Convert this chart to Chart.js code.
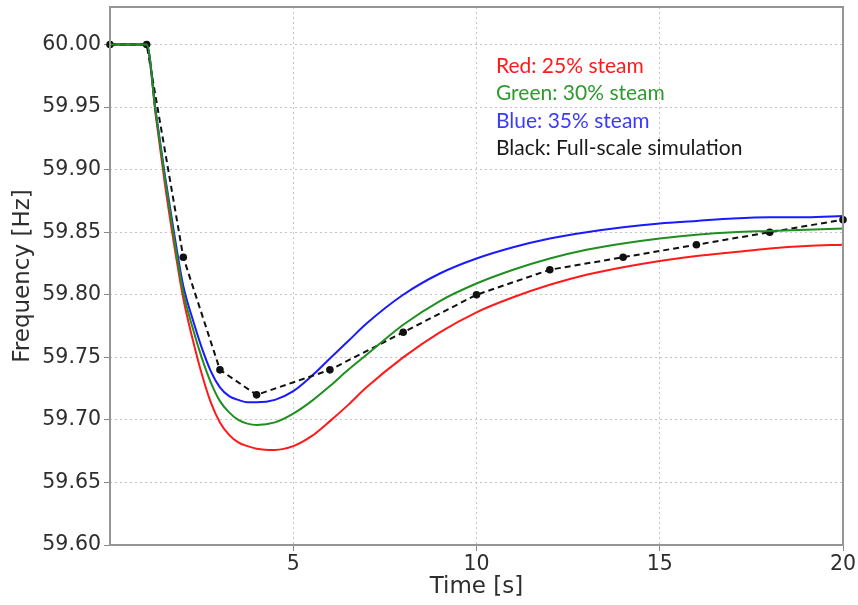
<!DOCTYPE html>
<html>
<head>
<meta charset="utf-8">
<script src="https://cdn.jsdelivr.net/npm/chart.js@4.4.1/dist/chart.umd.min.js"></script>
<style>
  html, body { margin: 0; padding: 0; background: #ffffff; }
  #wrap { width: 858px; height: 605px; }
</style>
</head>
<body>
<div id="wrap"><canvas id="c" width="858" height="605"></canvas></div>
<script>
// Reduced-model time base [s]
const tModel = [0, 1, 1.25, 1.5, 1.75, 2, 2.25, 2.5, 2.75, 3, 3.25, 3.5, 3.75, 4, 4.5, 5, 5.5, 6, 6.5, 7, 8, 9, 10, 11, 12, 13, 14, 15, 16, 17, 18, 19, 20];
// Frequency [Hz] for each steam share
const red25 = [60.000, 60.000, 59.943, 59.888, 59.840, 59.797, 59.765, 59.737, 59.714, 59.698, 59.688, 59.682, 59.679, 59.677, 59.676, 59.679, 59.687, 59.699, 59.712, 59.726, 59.750, 59.770, 59.786, 59.798, 59.808, 59.816, 59.822, 59.827, 59.831, 59.834, 59.837, 59.839, 59.840];
const green30 = [60.000, 60.000, 59.945, 59.893, 59.845, 59.802, 59.774, 59.750, 59.730, 59.715, 59.706, 59.700, 59.697, 59.696, 59.698, 59.705, 59.715, 59.727, 59.740, 59.752, 59.776, 59.795, 59.809, 59.820, 59.829, 59.836, 59.841, 59.845, 59.848, 59.850, 59.851, 59.852, 59.853];
const blue35 = [60.000, 60.000, 59.946, 59.895, 59.849, 59.807, 59.781, 59.758, 59.739, 59.726, 59.719, 59.716, 59.714, 59.714, 59.716, 59.723, 59.735, 59.749, 59.763, 59.777, 59.800, 59.817, 59.829, 59.838, 59.845, 59.850, 59.854, 59.857, 59.859, 59.861, 59.862, 59.862, 59.863];
// Full-scale simulation samples
const tFull = [0, 1, 2, 3, 4, 6, 8, 10, 12, 14, 16, 18, 20];
const fullScale = [60.00, 60.00, 59.83, 59.74, 59.72, 59.74, 59.77, 59.80, 59.82, 59.83, 59.84, 59.85, 59.86];
// Axis ticks
const xTicks = [5, 10, 15, 20];
const yTicks = [59.60, 59.65, 59.70, 59.75, 59.80, 59.85, 59.90, 59.95, 60.00];
// Legend notes
const notes = ['Red: 25% steam', 'Green: 30% steam', 'Blue: 35% steam', 'Black: Full-scale simulation'];
const noteColors = ['#ff1a1a', '#2e9a2e', '#3b3bff', '#1a1a1a'];

const pts = (xs, ys) => xs.map((x, i) => ({ x: x, y: ys[i] }));

const framePlugin = {
  id: 'frame',
  afterDatasetsDraw(chart) {
    const { ctx, chartArea: a } = chart;
    ctx.save();
    ctx.strokeStyle = '#959595';
    ctx.lineWidth = 2;
    ctx.strokeRect(a.left, a.top, a.right - a.left, a.bottom - a.top);
    ctx.restore();
  },
  afterDraw(chart) {
    const { ctx, scales } = chart;
    ctx.save();
    ctx.font = '21px Lato';
    ctx.textBaseline = 'middle';
    ctx.textAlign = 'left';
    const x0 = scales.x.getPixelForValue(10.53);
    const y0 = scales.y.getPixelForValue(59.9825);
    notes.forEach((s, i) => {
      ctx.fillStyle = noteColors[i];
      ctx.fillText(s, x0, y0 + i * 27.3);
    });
    ctx.restore();
  }
};

const gridStyle = {
  color: '#c4c4c4',
  lineWidth: 1,
  drawTicks: true,
  tickLength: 6,
  tickColor: '#8a8a8a',
  tickBorderDash: [],
  tickWidth: 1
};
const gridBorder = { display: false, dash: [2, 3] };

new Chart(document.getElementById('c'), {
  type: 'line',
  data: {
    datasets: [
      { label: 'Green', data: pts(tModel, green30), borderColor: '#1f8f1f', borderWidth: 2, pointRadius: 0, cubicInterpolationMode: 'monotone' },
      { label: 'Black', data: pts(tFull, fullScale), borderColor: '#111111', backgroundColor: '#111111', borderWidth: 2, borderDash: [6, 4], pointRadius: 3.8, pointBorderWidth: 0, tension: 0, clip: 6 },
      { label: 'Blue', data: pts(tModel, blue35), borderColor: '#1a1aff', borderWidth: 2, pointRadius: 0, cubicInterpolationMode: 'monotone' },
      { label: 'Red', data: pts(tModel, red25), borderColor: '#ff1a1a', borderWidth: 2, pointRadius: 0, cubicInterpolationMode: 'monotone' }
    ]
  },
  options: {
    responsive: false,
    animation: false,
    events: [],
    layout: { padding: { top: 7, right: 15, left: 0, bottom: 0 } },
    plugins: { legend: { display: false }, tooltip: { enabled: false } },
    scales: {
      x: {
        type: 'linear', min: 0, max: 20,
        afterBuildTicks: s => { s.ticks = xTicks.map(v => ({ value: v })); },
        afterFit: s => { s.height = 60; s.paddingLeft = 0; s.paddingRight = 0; },
        grid: gridStyle,
        border: gridBorder,
        ticks: { color: '#2e2e2e', font: { family: 'DejaVu Sans', size: 20.5 }, padding: 1, maxRotation: 0, callback: v => String(v) },
        title: { display: true, text: 'Time [s]', color: '#2e2e2e', font: { family: 'DejaVu Sans', size: 23 }, padding: { top: 0, bottom: 4 } }
      },
      y: {
        type: 'linear', min: 59.6, max: 60.03,
        afterBuildTicks: s => { s.ticks = yTicks.map(v => ({ value: v })); },
        afterFit: s => { s.width = 110; s.paddingTop = 0; s.paddingBottom = 0; },
        grid: gridStyle,
        border: gridBorder,
        ticks: { color: '#2e2e2e', font: { family: 'DejaVu Sans', size: 20.5 }, padding: 3, callback: v => Number(v).toFixed(2) },
        title: { display: true, text: 'Frequency [Hz]', color: '#2e2e2e', font: { family: 'DejaVu Sans', size: 23 }, padding: { top: 9, bottom: 0 } }
      }
    }
  },
  plugins: [framePlugin]
});
</script>
</body>
</html>
